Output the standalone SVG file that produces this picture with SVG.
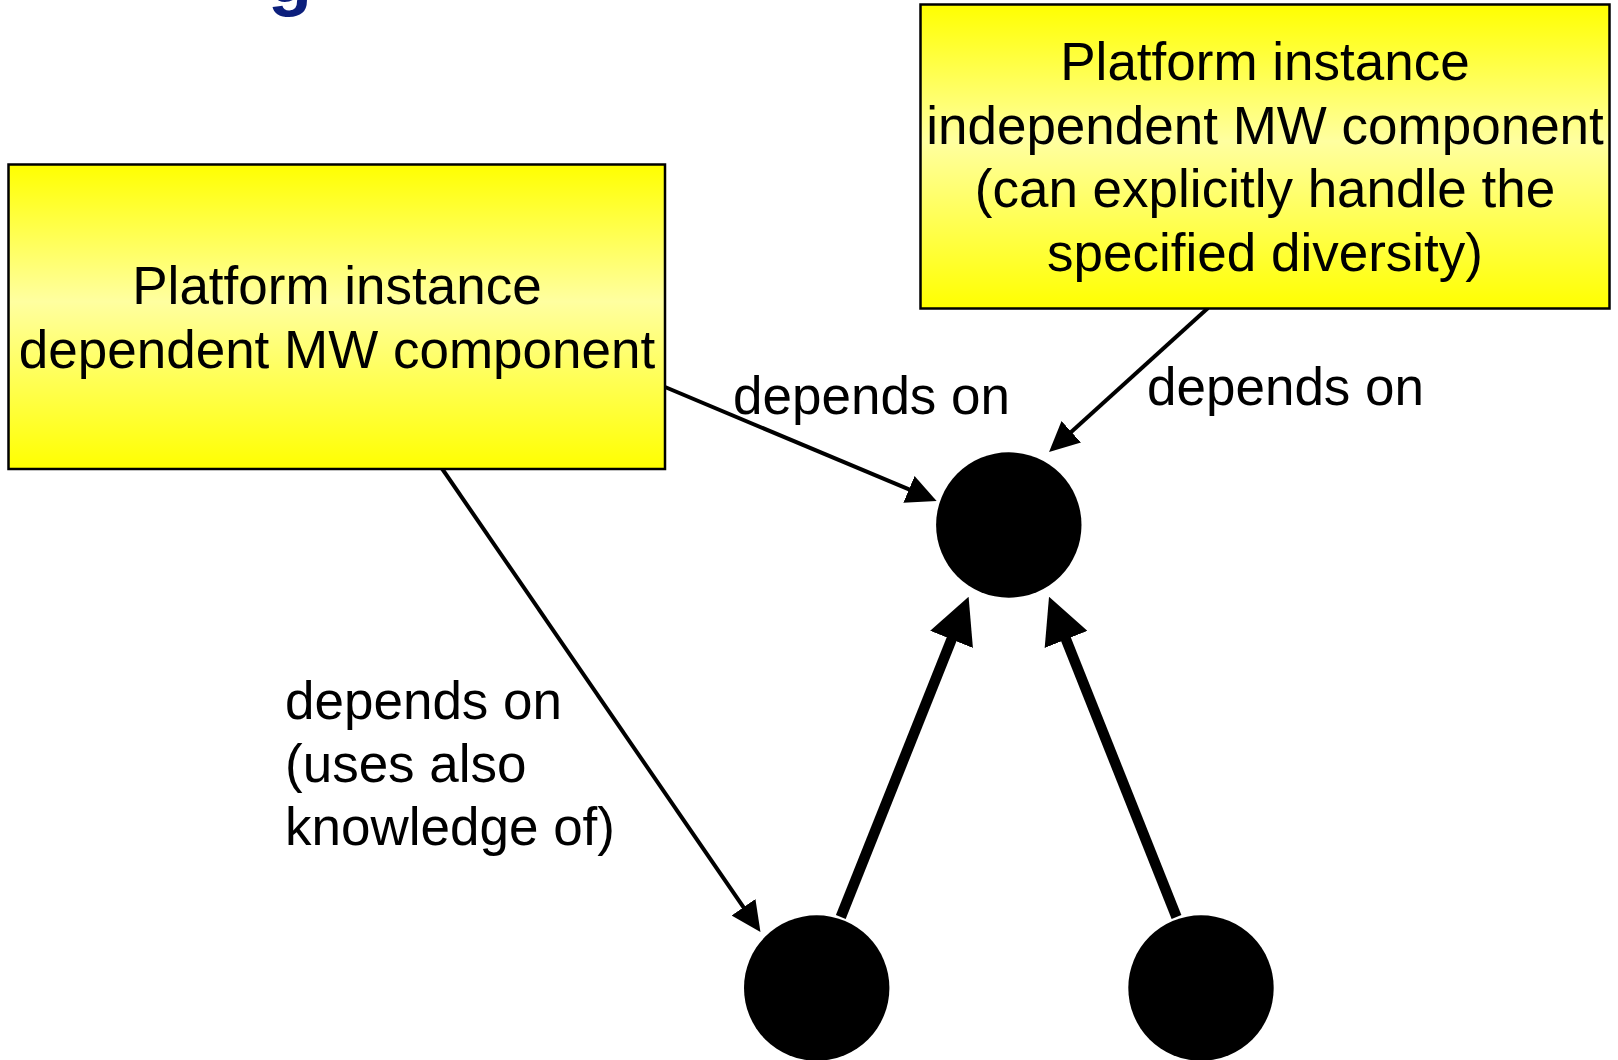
<svg xmlns="http://www.w3.org/2000/svg" width="1618" height="1060" viewBox="0 0 1618 1060">
<style>
.box{stroke:#000;stroke-width:2.5;fill:url(#yel)}
.t{font-family:"Liberation Sans",Arial,sans-serif;font-size:53px;fill:#000}
.c{text-anchor:middle}
.thin{stroke:#000;stroke-width:4;fill:none;marker-end:url(#ahThin)}
.thick{stroke:#000;stroke-width:10.5;fill:none;marker-end:url(#ahThick)}
.dot{fill:#000}
</style>
<defs>
<linearGradient id="yel" x1="0" y1="0" x2="0" y2="1">
<stop offset="0" stop-color="#ffff00"/>
<stop offset="0.45" stop-color="#ffffa0"/>
<stop offset="1" stop-color="#ffff00"/>
</linearGradient>
<marker id="ahThin" markerUnits="userSpaceOnUse" viewBox="0 0 30 29" refX="2" refY="14.5" markerWidth="30" markerHeight="29" orient="auto">
<path d="M0,0 L30,14.5 L0,29 z" fill="#000"/>
</marker>
<marker id="ahThick" markerUnits="userSpaceOnUse" viewBox="0 0 46 46" refX="2" refY="23" markerWidth="46" markerHeight="46" orient="auto">
<path d="M0,0 L46,23 L0,46 z" fill="#000"/>
</marker>
</defs>
<rect width="1618" height="1060" fill="#fff"/>
<text x="268" y="1.5" font-family="Liberation Sans,Arial,sans-serif" font-size="72" font-weight="bold" fill="#0c1f7c">g</text>
<g id="connectors">
<line class="thin" x1="665" y1="387" x2="910.8" y2="490.2"/>
<line class="thin" x1="1208" y1="308" x2="1069.8" y2="433.2"/>
<line class="thin" x1="442" y1="468.5" x2="744.6" y2="908.9"/>
<line class="thick" x1="840.8" y1="917" x2="952.3" y2="637.5"/>
<line class="thick" x1="1176.5" y1="917" x2="1065.3" y2="637.6"/>
</g>
<g id="box-dependent">
<rect class="box" x="8.5" y="164.5" width="656.5" height="304.5"/>
<text class="t c" x="337" y="304">Platform instance</text>
<text class="t c" x="337" y="367.5">dependent MW component</text>
</g>
<g id="box-independent">
<rect class="box" x="920.5" y="4.5" width="689" height="304"/>
<text class="t c" x="1265" y="80">Platform instance</text>
<text class="t c" x="1265" y="143.5">independent MW component</text>
<text class="t c" x="1265" y="207">(can explicitly handle the</text>
<text class="t c" x="1265" y="270.5">specified diversity)</text>
</g>
<g id="node-top"><circle class="dot" cx="1008.8" cy="525" r="72.7"/></g>
<g id="node-bottom-left"><circle class="dot" cx="816.7" cy="988" r="72.7"/></g>
<g id="node-bottom-right"><circle class="dot" cx="1201" cy="988" r="72.7"/></g>
<g id="labels">
<text class="t" x="733" y="413.5">depends on</text>
<text class="t" x="1147" y="404.5">depends on</text>
<text class="t" x="285" y="719">depends on</text>
<text class="t" x="285" y="782">(uses also</text>
<text class="t" x="285" y="845">knowledge of)</text>
</g>
</svg>
